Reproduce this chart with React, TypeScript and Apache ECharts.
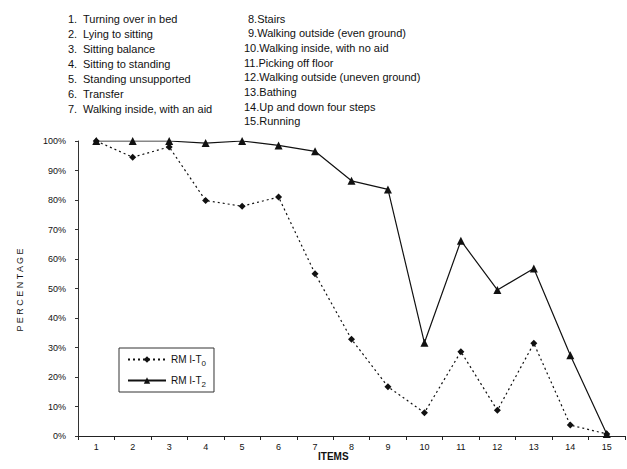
import React, { useEffect, useRef } from "react";
import * as echarts from "echarts";

const items = [
  "Turning over in bed",
  "Lying to sitting",
  "Sitting balance",
  "Sitting to standing",
  "Standing unsupported",
  "Transfer",
  "Walking inside, with an aid",
  "Stairs",
  "Walking outside (even ground)",
  "Walking inside, with no aid",
  "Picking off floor",
  "Walking outside (uneven ground)",
  "Bathing",
  "Up and down four steps",
  "Running",
];
const categories = ["1", "2", "3", "4", "5", "6", "7", "8", "9", "10", "11", "12", "13", "14", "15"];
const rmiT0 = [1.0, 0.945, 0.98, 0.798, 0.779, 0.81, 0.55, 0.328, 0.167, 0.079, 0.286, 0.087, 0.314, 0.037, 0.007];
const rmiT2 = [1.0, 1.0, 1.0, 0.993, 1.0, 0.985, 0.965, 0.865, 0.836, 0.316, 0.662, 0.495, 0.568, 0.274, 0.007];
const yTicks = [0, 0.1, 0.2, 0.3, 0.4, 0.5, 0.6, 0.7, 0.8, 0.9, 1.0];

const FONT = "'Liberation Sans', Arial, sans-serif";

export default function App() {
  const ref = useRef<HTMLDivElement>(null);
  useEffect(() => {
    if (!ref.current) return;
    const chart = echarts.init(ref.current, null, { renderer: "svg" });
    const listTexts: any[] = [];
    items.forEach((name, i) => {
      if (i < 7) {
        listTexts.push({
          type: "text", left: 68, top: 13 + i * 15,
          style: { text: `${i + 1}.`, font: `11px ${FONT}`, fill: "#111" },
        });
        listTexts.push({
          type: "text", left: 83, top: 13 + i * 15,
          style: { text: name, font: `11px ${FONT}`, fill: "#111" },
        });
      } else {
        const j = i - 7;
        const num = i + 1;
        listTexts.push({
          type: "text", left: num < 10 ? 248 : 244, top: 13 + j * 14.7,
          style: { text: `${num}.${name}`, font: `11px ${FONT}`, fill: "#111" },
        });
      }
    });
    chart.setOption({
      animation: false,
      grid: { left: 78, right: 2, top: 141, bottom: 33, containLabel: false },
      xAxis: {
        type: "category",
        data: categories,
        boundaryGap: true,
        axisLine: { lineStyle: { color: "#222", width: 1 } },
        axisTick: { show: true, length: 4, lineStyle: { color: "#222" } },
        axisLabel: { margin: 6, fontSize: 9, fontFamily: FONT, color: "#111" },
        splitLine: { show: false },
      },
      yAxis: {
        type: "value",
        min: 0,
        max: 1,
        interval: 0.1,
        axisLine: { show: true, lineStyle: { color: "#333", width: 1 } },
        axisTick: { show: true, length: 3, lineStyle: { color: "#333" } },
        axisLabel: {
          margin: 12,
          fontSize: 9,
          fontFamily: FONT,
          color: "#111",
          formatter: (v: number) => {
            const t = yTicks.find((x) => Math.abs(x - v) < 1e-6);
            return `${Math.round((t ?? v) * 100)}%`;
          },
        },
        splitLine: { show: false },
      },
      legend: {
        orient: "vertical",
        left: 119,
        top: 348,
        width: 100,
        borderColor: "#333",
        borderWidth: 1,
        padding: [4, 8, 4, 8],
        itemGap: 6,
        itemWidth: 38,
        itemHeight: 8,
        textStyle: {
          fontFamily: FONT,
          fontSize: 10,
          color: "#111",
          rich: {
            a: { fontFamily: FONT, fontSize: 10, color: "#111", lineHeight: 14 },
            s: { fontFamily: FONT, fontSize: 8, color: "#111", padding: [7, 0, 0, 0], lineHeight: 14 },
          },
        },
        formatter: (name: string) => (name === "T0" ? "{a|RM I-T}{s|0}" : "{a|RM I-T}{s|2}"),
        data: ["T0", "T2"],
      },
      graphic: [
        ...listTexts,
        {
          type: "text", left: 318, top: 451,
          style: { text: "ITEMS", font: `bold 10px ${FONT}`, fill: "#111" },
        },
        {
          type: "text", x: 20, y: 290, rotation: Math.PI / 2,
          style: { text: "P E R C E N T A G E", font: `9px ${FONT}`, fill: "#111", align: "center", verticalAlign: "middle" },
        },
      ],
      series: [
        {
          name: "T0",
          type: "line",
          data: rmiT0,
          symbol: "diamond",
          symbolSize: 7,
          lineStyle: { color: "#111", width: 1.2, type: [2, 3] },
          itemStyle: { color: "#111" },
        },
        {
          name: "T2",
          type: "line",
          data: rmiT2,
          symbol: "triangle",
          symbolSize: 8,
          lineStyle: { color: "#111", width: 1.2, type: "solid" },
          itemStyle: { color: "#111" },
        },
      ],
    });
    return () => chart.dispose();
  }, []);
  return <div ref={ref} style={{ width: 627, height: 469, position: "absolute", left: 0, top: 0 }} />;
}
